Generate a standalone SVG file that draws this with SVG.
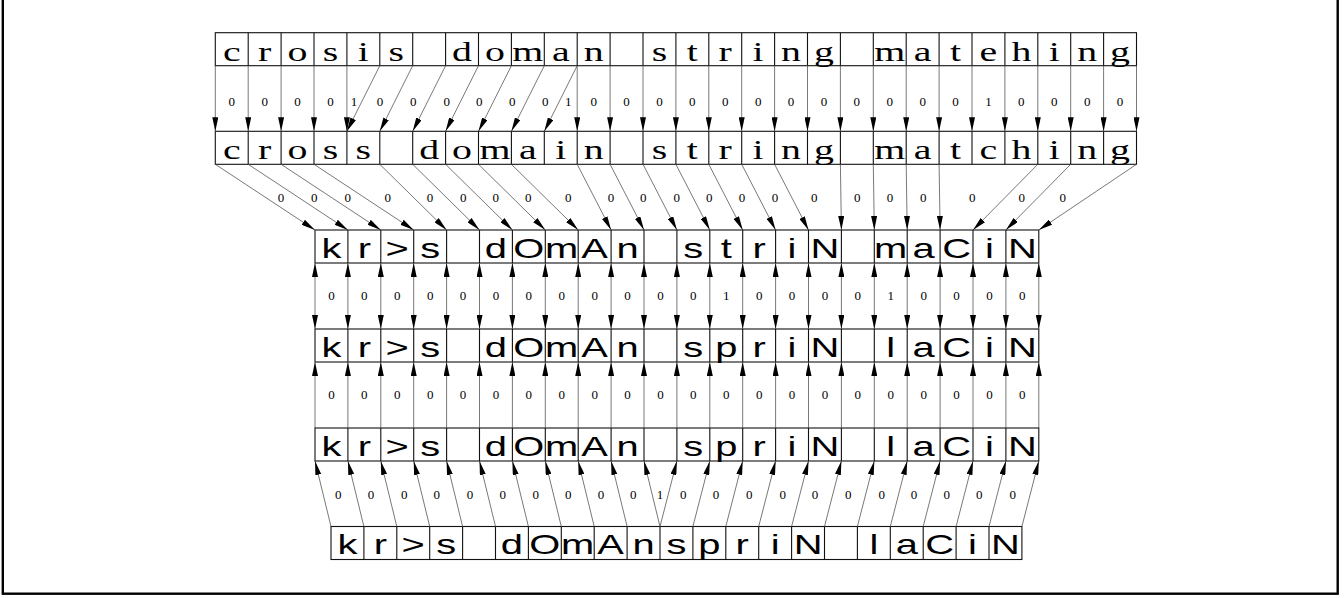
<svg xmlns="http://www.w3.org/2000/svg" width="1344" height="598" viewBox="0 0 1344 598">
<style>
.cell{fill:none;stroke:#111;stroke-width:1.1}
.ser{font-family:"Liberation Serif","Times New Roman",serif;font-size:27.5px;fill:#000;text-anchor:middle}
.san{font-family:"Liberation Sans",Arial,sans-serif;font-size:28.5px;fill:#000;text-anchor:middle}
.lb{font-family:"Liberation Serif","Times New Roman",serif;font-size:13px;fill:#000;text-anchor:middle}
.c{stroke:#555;stroke-width:0.8;fill:none;marker-end:url(#ah)}
.d{marker-start:url(#ah)}
</style>
<defs>
<marker id="ah" viewBox="0 0 14 6" refX="14" refY="3" markerWidth="14" markerHeight="6" markerUnits="userSpaceOnUse" orient="auto-start-reverse"><path d="M0,0L14,3L0,6z" fill="#000"/></marker>
</defs>
<rect x="0" y="0" width="1344" height="598" fill="#fff"/>
<rect x="2.8" y="-5" width="1334.9" height="598.7" fill="none" stroke="#000" stroke-width="2.4"/>

<g id="row1">
<rect class="cell" x="215.3" y="32.7" width="921.2" height="33"/>
<path class="cell" d="M248.2 32.7v33M281.1 32.7v33M314 32.7v33M346.9 32.7v33M379.8 32.7v33M412.7 32.7v33M445.6 32.7v33M478.5 32.7v33M511.4 32.7v33M544.3 32.7v33M577.2 32.7v33M610.1 32.7v33M643 32.7v33M675.9 32.7v33M708.8 32.7v33M741.7 32.7v33M774.6 32.7v33M807.5 32.7v33M840.4 32.7v33M873.3 32.7v33M906.2 32.7v33M939.1 32.7v33M972 32.7v33M1004.9 32.7v33M1037.8 32.7v33M1070.7 32.7v33M1103.6 32.7v33"/>
<g transform="translate(215.3,0) scale(1.45,1)"><text class="ser" y="60.8" x="11.34 34.03 56.72 79.41 102.10 124.79 147.48 170.17 192.86 215.55 238.24 260.93 283.62 306.31 329.00 351.69 374.38 397.07 419.76 442.45 465.14 487.83 510.52 533.21 555.90 578.59 601.28 623.97">crosis doman string matehing</text></g>
</g>

<g id="row2">
<rect class="cell" x="215.3" y="131.3" width="921.2" height="33"/>
<path class="cell" d="M248.2 131.3v33M281.1 131.3v33M314 131.3v33M346.9 131.3v33M379.8 131.3v33M412.7 131.3v33M445.6 131.3v33M478.5 131.3v33M511.4 131.3v33M544.3 131.3v33M577.2 131.3v33M610.1 131.3v33M643 131.3v33M675.9 131.3v33M708.8 131.3v33M741.7 131.3v33M774.6 131.3v33M807.5 131.3v33M840.4 131.3v33M873.3 131.3v33M906.2 131.3v33M939.1 131.3v33M972 131.3v33M1004.9 131.3v33M1037.8 131.3v33M1070.7 131.3v33M1103.6 131.3v33"/>
<g transform="translate(215.3,0) scale(1.45,1)"><text class="ser" y="159.3" x="11.34 34.03 56.72 79.41 102.10 124.79 147.48 170.17 192.86 215.55 238.24 260.93 283.62 306.31 329.00 351.69 374.38 397.07 419.76 442.45 465.14 487.83 510.52 533.21 555.90 578.59 601.28 623.97">cross domain string matching</text></g>
</g>

<g id="row3">
<rect class="cell" x="315" y="230" width="723.8" height="33"/>
<path class="cell" d="M347.9 230v33M380.8 230v33M413.7 230v33M446.6 230v33M479.5 230v33M512.4 230v33M545.3 230v33M578.2 230v33M611.1 230v33M644 230v33M676.9 230v33M709.8 230v33M742.7 230v33M775.6 230v33M808.5 230v33M841.4 230v33M874.3 230v33M907.2 230v33M940.1 230v33M973 230v33M1005.9 230v33"/>
<g transform="translate(315,0) scale(1.4,1)"><text class="san" y="257.7" x="11.75 35.25 58.75 82.25 105.75 129.25 152.75 176.25 199.75 223.25 246.75 270.25 293.75 317.25 340.75 364.25 387.75 411.25 434.75 458.25 481.75 505.25">kr&gt;s dOmAn striN maCiN</text></g>
</g>

<g id="row4">
<rect class="cell" x="315" y="329" width="723.8" height="33"/>
<path class="cell" d="M347.9 329v33M380.8 329v33M413.7 329v33M446.6 329v33M479.5 329v33M512.4 329v33M545.3 329v33M578.2 329v33M611.1 329v33M644 329v33M676.9 329v33M709.8 329v33M742.7 329v33M775.6 329v33M808.5 329v33M841.4 329v33M874.3 329v33M907.2 329v33M940.1 329v33M973 329v33M1005.9 329v33"/>
<g transform="translate(315,0) scale(1.4,1)"><text class="san" y="356.7" x="11.75 35.25 58.75 82.25 105.75 129.25 152.75 176.25 199.75 223.25 246.75 270.25 293.75 317.25 340.75 364.25 387.75 411.25 434.75 458.25 481.75 505.25">kr&gt;s dOmAn spriN laCiN</text></g>
</g>

<g id="row5">
<rect class="cell" x="315" y="428" width="723.8" height="33"/>
<path class="cell" d="M347.9 428v33M380.8 428v33M413.7 428v33M446.6 428v33M479.5 428v33M512.4 428v33M545.3 428v33M578.2 428v33M611.1 428v33M644 428v33M676.9 428v33M709.8 428v33M742.7 428v33M775.6 428v33M808.5 428v33M841.4 428v33M874.3 428v33M907.2 428v33M940.1 428v33M973 428v33M1005.9 428v33"/>
<g transform="translate(315,0) scale(1.4,1)"><text class="san" y="455.7" x="11.75 35.25 58.75 82.25 105.75 129.25 152.75 176.25 199.75 223.25 246.75 270.25 293.75 317.25 340.75 364.25 387.75 411.25 434.75 458.25 481.75 505.25">kr&gt;s dOmAn spriN laCiN</text></g>
</g>

<g id="row6">
<rect class="cell" x="331" y="526.5" width="690.9" height="33"/>
<path class="cell" d="M363.9 526.5v33M396.8 526.5v33M429.7 526.5v33M462.6 526.5v33M495.5 526.5v33M528.4 526.5v33M561.3 526.5v33M594.2 526.5v33M627.1 526.5v33M660 526.5v33M692.9 526.5v33M725.8 526.5v33M758.7 526.5v33M791.6 526.5v33M824.5 526.5v33M857.4 526.5v33M890.3 526.5v33M923.2 526.5v33M956.1 526.5v33M989 526.5v33"/>
<g transform="translate(331,0) scale(1.4,1)"><text class="san" y="554.2" x="11.75 35.25 58.75 82.25 105.75 129.25 152.75 176.25 199.75 223.25 246.75 270.25 293.75 317.25 340.75 364.25 387.75 411.25 434.75 458.25 481.75">kr&gt;s dOmAnspriN laCiN</text></g>
</g>

<g id="connectors">
<path class="c" d="M215.3 65.7L215.3 131.3"/>
<path class="c" d="M248.2 65.7L248.2 131.3"/>
<path class="c" d="M281.1 65.7L281.1 131.3"/>
<path class="c" d="M314 65.7L314 131.3"/>
<path class="c" d="M346.9 65.7L346.9 131.3"/>
<path class="c" d="M379.8 65.7L346.9 131.3"/>
<path class="c" d="M412.7 65.7L379.8 131.3"/>
<path class="c" d="M445.6 65.7L412.7 131.3"/>
<path class="c" d="M478.5 65.7L445.6 131.3"/>
<path class="c" d="M511.4 65.7L478.5 131.3"/>
<path class="c" d="M544.3 65.7L511.4 131.3"/>
<path class="c" d="M577.2 65.7L544.3 131.3"/>
<path class="c" d="M577.2 65.7L577.2 131.3"/>
<path class="c" d="M610.1 65.7L610.1 131.3"/>
<path class="c" d="M643 65.7L643 131.3"/>
<path class="c" d="M675.9 65.7L675.9 131.3"/>
<path class="c" d="M708.8 65.7L708.8 131.3"/>
<path class="c" d="M741.7 65.7L741.7 131.3"/>
<path class="c" d="M774.6 65.7L774.6 131.3"/>
<path class="c" d="M807.5 65.7L807.5 131.3"/>
<path class="c" d="M840.4 65.7L840.4 131.3"/>
<path class="c" d="M873.3 65.7L873.3 131.3"/>
<path class="c" d="M906.2 65.7L906.2 131.3"/>
<path class="c" d="M939.1 65.7L939.1 131.3"/>
<path class="c" d="M972 65.7L972 131.3"/>
<path class="c" d="M1004.9 65.7L1004.9 131.3"/>
<path class="c" d="M1037.8 65.7L1037.8 131.3"/>
<path class="c" d="M1070.7 65.7L1070.7 131.3"/>
<path class="c" d="M1103.6 65.7L1103.6 131.3"/>
<path class="c" d="M1136.5 65.7L1136.5 131.3"/>
<path class="c" d="M215.3 164.3L315 230"/>
<path class="c" d="M248.2 164.3L347.9 230"/>
<path class="c" d="M281.1 164.3L380.8 230"/>
<path class="c" d="M314 164.3L413.7 230"/>
<path class="c" d="M379.8 164.3L446.6 230"/>
<path class="c" d="M412.7 164.3L479.5 230"/>
<path class="c" d="M445.6 164.3L512.4 230"/>
<path class="c" d="M478.5 164.3L545.3 230"/>
<path class="c" d="M511.4 164.3L578.2 230"/>
<path class="c" d="M577.2 164.3L611.1 230"/>
<path class="c" d="M610.1 164.3L644 230"/>
<path class="c" d="M643 164.3L676.9 230"/>
<path class="c" d="M675.9 164.3L709.8 230"/>
<path class="c" d="M708.8 164.3L742.7 230"/>
<path class="c" d="M741.7 164.3L775.6 230"/>
<path class="c" d="M774.6 164.3L808.5 230"/>
<path class="c" d="M840.4 164.3L841.4 230"/>
<path class="c" d="M873.3 164.3L874.3 230"/>
<path class="c" d="M906.2 164.3L907.2 230"/>
<path class="c" d="M939.1 164.3L940.1 230"/>
<path class="c" d="M1037.8 164.3L973 230"/>
<path class="c" d="M1070.7 164.3L1005.9 230"/>
<path class="c" d="M1136.5 164.3L1038.8 230"/>
<path class="c d" d="M315 263V329"/>
<path class="c d" d="M347.9 263V329"/>
<path class="c d" d="M380.8 263V329"/>
<path class="c d" d="M413.7 263V329"/>
<path class="c d" d="M446.6 263V329"/>
<path class="c d" d="M479.5 263V329"/>
<path class="c d" d="M512.4 263V329"/>
<path class="c d" d="M545.3 263V329"/>
<path class="c d" d="M578.2 263V329"/>
<path class="c d" d="M611.1 263V329"/>
<path class="c d" d="M644 263V329"/>
<path class="c d" d="M676.9 263V329"/>
<path class="c d" d="M709.8 263V329"/>
<path class="c d" d="M742.7 263V329"/>
<path class="c d" d="M775.6 263V329"/>
<path class="c d" d="M808.5 263V329"/>
<path class="c d" d="M841.4 263V329"/>
<path class="c d" d="M874.3 263V329"/>
<path class="c d" d="M907.2 263V329"/>
<path class="c d" d="M940.1 263V329"/>
<path class="c d" d="M973 263V329"/>
<path class="c d" d="M1005.9 263V329"/>
<path class="c d" d="M1038.8 263V329"/>
<path class="c" d="M315 428V362"/>
<path class="c" d="M347.9 428V362"/>
<path class="c" d="M380.8 428V362"/>
<path class="c" d="M413.7 428V362"/>
<path class="c" d="M446.6 428V362"/>
<path class="c" d="M479.5 428V362"/>
<path class="c" d="M512.4 428V362"/>
<path class="c" d="M545.3 428V362"/>
<path class="c" d="M578.2 428V362"/>
<path class="c" d="M611.1 428V362"/>
<path class="c" d="M644 428V362"/>
<path class="c" d="M676.9 428V362"/>
<path class="c" d="M709.8 428V362"/>
<path class="c" d="M742.7 428V362"/>
<path class="c" d="M775.6 428V362"/>
<path class="c" d="M808.5 428V362"/>
<path class="c" d="M841.4 428V362"/>
<path class="c" d="M874.3 428V362"/>
<path class="c" d="M907.2 428V362"/>
<path class="c" d="M940.1 428V362"/>
<path class="c" d="M973 428V362"/>
<path class="c" d="M1005.9 428V362"/>
<path class="c" d="M1038.8 428V362"/>
<path class="c" d="M331 526.5L315 461"/>
<path class="c" d="M363.9 526.5L347.9 461"/>
<path class="c" d="M396.8 526.5L380.8 461"/>
<path class="c" d="M429.7 526.5L413.7 461"/>
<path class="c" d="M462.6 526.5L446.6 461"/>
<path class="c" d="M495.5 526.5L479.5 461"/>
<path class="c" d="M528.4 526.5L512.4 461"/>
<path class="c" d="M561.3 526.5L545.3 461"/>
<path class="c" d="M594.2 526.5L578.2 461"/>
<path class="c" d="M627.1 526.5L611.1 461"/>
<path class="c" d="M660 526.5L644 461"/>
<path class="c" d="M660 526.5L676.9 461"/>
<path class="c" d="M692.9 526.5L709.8 461"/>
<path class="c" d="M725.8 526.5L742.7 461"/>
<path class="c" d="M758.7 526.5L775.6 461"/>
<path class="c" d="M791.6 526.5L808.5 461"/>
<path class="c" d="M824.5 526.5L841.4 461"/>
<path class="c" d="M857.4 526.5L874.3 461"/>
<path class="c" d="M890.3 526.5L907.2 461"/>
<path class="c" d="M923.2 526.5L940.1 461"/>
<path class="c" d="M956.1 526.5L973 461"/>
<path class="c" d="M989 526.5L1005.9 461"/>
<path class="c" d="M1021.9 526.5L1038.8 461"/>
</g>

<g id="labels">
<text class="lb" x="231.75" y="106.1">0</text><text class="lb" x="264.65" y="106.1">0</text><text class="lb" x="297.55" y="106.1">0</text><text class="lb" x="330.45" y="106.1">0</text><text class="lb" x="354" y="106.1">1</text><text class="lb" x="380" y="106.1">0</text><text class="lb" x="413.3" y="106.1">0</text><text class="lb" x="446.7" y="106.1">0</text><text class="lb" x="479.3" y="106.1">0</text><text class="lb" x="512.3" y="106.1">0</text><text class="lb" x="545.3" y="106.1">0</text><text class="lb" x="568.3" y="106.1">1</text><text class="lb" x="593.65" y="106.1">0</text><text class="lb" x="626.55" y="106.1">0</text><text class="lb" x="659.45" y="106.1">0</text><text class="lb" x="692.35" y="106.1">0</text><text class="lb" x="725.25" y="106.1">0</text><text class="lb" x="758.15" y="106.1">0</text><text class="lb" x="791.05" y="106.1">0</text><text class="lb" x="823.95" y="106.1">0</text><text class="lb" x="856.85" y="106.1">0</text><text class="lb" x="889.75" y="106.1">0</text><text class="lb" x="922.65" y="106.1">0</text><text class="lb" x="955.55" y="106.1">0</text><text class="lb" x="988.45" y="106.1">1</text><text class="lb" x="1021.35" y="106.1">0</text><text class="lb" x="1054.25" y="106.1">0</text><text class="lb" x="1087.15" y="106.1">0</text><text class="lb" x="1120.05" y="106.1">0</text>

<text class="lb" x="281" y="202.1">0</text><text class="lb" x="314.3" y="202.1">0</text><text class="lb" x="347.7" y="202.1">0</text><text class="lb" x="387.7" y="202.1">0</text><text class="lb" x="430" y="202.1">0</text><text class="lb" x="463.3" y="202.1">0</text><text class="lb" x="495.7" y="202.1">0</text><text class="lb" x="528.3" y="202.1">0</text><text class="lb" x="568.3" y="202.1">0</text><text class="lb" x="611" y="202.1">0</text><text class="lb" x="643.3" y="202.1">0</text><text class="lb" x="676.7" y="202.1">0</text><text class="lb" x="709.3" y="202.1">0</text><text class="lb" x="742" y="202.1">0</text><text class="lb" x="775" y="202.1">0</text><text class="lb" x="814.3" y="202.1">0</text><text class="lb" x="857.3" y="202.1">0</text><text class="lb" x="890" y="202.1">0</text><text class="lb" x="923.3" y="202.1">0</text><text class="lb" x="972.3" y="202.1">0</text><text class="lb" x="1021.7" y="202.1">0</text><text class="lb" x="1062.7" y="202.1">0</text>

<text class="lb" x="331.45" y="300.4">0</text><text class="lb" x="364.35" y="300.4">0</text><text class="lb" x="397.25" y="300.4">0</text><text class="lb" x="430.15" y="300.4">0</text><text class="lb" x="463.05" y="300.4">0</text><text class="lb" x="495.95" y="300.4">0</text><text class="lb" x="528.85" y="300.4">0</text><text class="lb" x="561.75" y="300.4">0</text><text class="lb" x="594.65" y="300.4">0</text><text class="lb" x="627.55" y="300.4">0</text><text class="lb" x="660.45" y="300.4">0</text><text class="lb" x="693.35" y="300.4">0</text><text class="lb" x="726.25" y="300.4">1</text><text class="lb" x="759.15" y="300.4">0</text><text class="lb" x="792.05" y="300.4">0</text><text class="lb" x="824.95" y="300.4">0</text><text class="lb" x="857.85" y="300.4">0</text><text class="lb" x="890.75" y="300.4">1</text><text class="lb" x="923.65" y="300.4">0</text><text class="lb" x="956.55" y="300.4">0</text><text class="lb" x="989.45" y="300.4">0</text><text class="lb" x="1022.35" y="300.4">0</text>

<text class="lb" x="331.45" y="399.4">0</text><text class="lb" x="364.35" y="399.4">0</text><text class="lb" x="397.25" y="399.4">0</text><text class="lb" x="430.15" y="399.4">0</text><text class="lb" x="463.05" y="399.4">0</text><text class="lb" x="495.95" y="399.4">0</text><text class="lb" x="528.85" y="399.4">0</text><text class="lb" x="561.75" y="399.4">0</text><text class="lb" x="594.65" y="399.4">0</text><text class="lb" x="627.55" y="399.4">0</text><text class="lb" x="660.45" y="399.4">0</text><text class="lb" x="693.35" y="399.4">0</text><text class="lb" x="726.25" y="399.4">0</text><text class="lb" x="759.15" y="399.4">0</text><text class="lb" x="792.05" y="399.4">0</text><text class="lb" x="824.95" y="399.4">0</text><text class="lb" x="857.85" y="399.4">0</text><text class="lb" x="890.75" y="399.4">0</text><text class="lb" x="923.65" y="399.4">0</text><text class="lb" x="956.55" y="399.4">0</text><text class="lb" x="989.45" y="399.4">0</text><text class="lb" x="1022.35" y="399.4">0</text>

<text class="lb" x="338.3" y="499.4">0</text><text class="lb" x="371" y="499.4">0</text><text class="lb" x="404.3" y="499.4">0</text><text class="lb" x="436.7" y="499.4">0</text><text class="lb" x="470" y="499.4">0</text><text class="lb" x="502.7" y="499.4">0</text><text class="lb" x="535.7" y="499.4">0</text><text class="lb" x="568.3" y="499.4">0</text><text class="lb" x="601" y="499.4">0</text><text class="lb" x="633.3" y="499.4">0</text><text class="lb" x="660" y="499.4">1</text><text class="lb" x="683.3" y="499.4">0</text><text class="lb" x="716" y="499.4">0</text><text class="lb" x="749.3" y="499.4">0</text><text class="lb" x="782.7" y="499.4">0</text><text class="lb" x="815" y="499.4">0</text><text class="lb" x="848.3" y="499.4">0</text><text class="lb" x="881.7" y="499.4">0</text><text class="lb" x="914" y="499.4">0</text><text class="lb" x="946.7" y="499.4">0</text><text class="lb" x="979.3" y="499.4">0</text><text class="lb" x="1012.7" y="499.4">0</text>
</g>
</svg>
